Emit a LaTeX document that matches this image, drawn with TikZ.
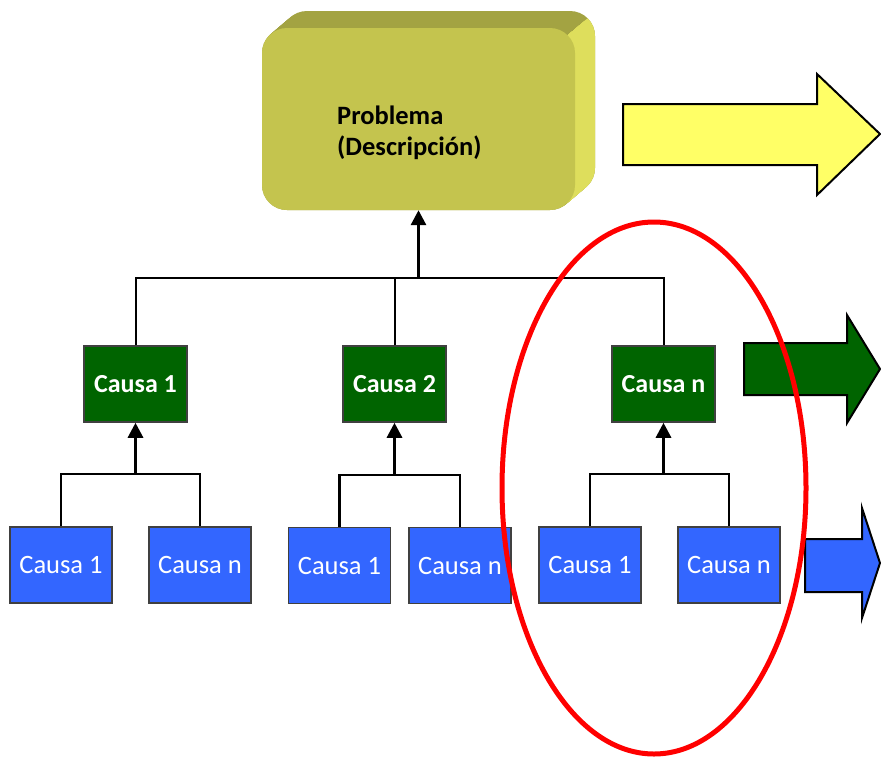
\documentclass[tikz,border=0pt]{standalone}
\usepackage{fontspec}
\setmainfont{Carlito}
\usetikzlibrary{arrows.meta}
\definecolor{ylw}{HTML}{FFFF66}
\definecolor{grn}{HTML}{006400}
\definecolor{blu}{HTML}{3366FF}
\definecolor{pfront}{HTML}{C4C44E}
\definecolor{ptop}{HTML}{A3A342}
\definecolor{pside}{HTML}{DEDE5C}
\definecolor{bord}{HTML}{404040}
\begin{document}
\begin{tikzpicture}[x=1pt,y=-1pt,
  greenbox/.style={draw=bord,line width=1.5pt,fill=grn,text=white,minimum width=103pt,minimum height=76pt,inner sep=0pt,font=\fontsize{26}{30}\selectfont\bfseries},
  bluebox/.style={draw=bord,line width=1.5pt,fill=blu,text=white,minimum width=102pt,minimum height=76pt,inner sep=0pt,font=\fontsize{26.5}{30}\selectfont},
  bigarrow/.style={draw=black,line width=2pt,line join=miter},
  link/.style={draw=black,line width=2.5pt},
  uparrow/.style={draw=black,line width=3pt,-{Triangle[length=15pt,width=15pt]}},
  probtext/.style={font=\fontsize{26.5}{30}\selectfont\bfseries,anchor=base west,inner sep=0pt}
]
\useasboundingbox (0,0) rectangle (881,756);
\fill[white] (0,0) rectangle (881,756);

% extruded problem box
\foreach \t in {0,0.05,...,1.001}{
  \fill[ptop,rounded corners=25pt] (262+20*\t,28-17*\t) rectangle (575+20*\t,210-17*\t);
}
\begin{scope}
  \clip (567.7,35.3) -- (607.7,1.3) -- (700,1.3) -- (700,300) -- (567.7,300) -- cycle;
  \foreach \t in {0,0.05,...,1.001}{
    \fill[pside,rounded corners=25pt] (262+20*\t,28-17*\t) rectangle (575+20*\t,210-17*\t);
  }
\end{scope}
\node[fill=pfront,rounded corners=25pt,minimum width=313pt,minimum height=182pt,inner sep=0pt] (prob) at (418.5,119) {};
\node[probtext] (pl1) at (337,124) {Problema};
\node[probtext] (pl2) at (337,155) {(Descripción)};

% big arrows
\path[bigarrow,fill=ylw] (623,104) -- (817,104) -- (817,74) -- (880,134) -- (817,195) -- (817,165) -- (623,165) -- cycle;
\path[bigarrow,fill=grn] (744,343) -- (847,343) -- (847,315) -- (880,369) -- (847,423) -- (847,395) -- (744,395) -- cycle;
\path[bigarrow,fill=blu] (805,539) -- (862,539) -- (862,508) -- (880,563) -- (862,618) -- (862,592) -- (805,592) -- cycle;

% green boxes
\node[greenbox] (g1) at (135.5,384) {Causa 1};
\node[greenbox] (g2) at (394.5,384) {Causa 2};
\node[greenbox] (g3) at (663.5,384) {Causa n};

% blue boxes
\node[bluebox] (c11) at (61,565) {Causa 1};
\node[bluebox] (c1n) at (200,565) {Causa n};
\node[bluebox] (c21) at (339.5,565.5) {Causa 1};
\node[bluebox] (c2n) at (460,565.5) {Causa n};
\node[bluebox] (c31) at (590,565) {Causa 1};
\node[bluebox] (c3n) at (729,565) {Causa n};

% top tree
\coordinate (top) at (418.5,278);
\draw[link,line width=2pt] (g1.north) |- (top) -| (g3.north);
\draw[link,line width=2pt] (g2.north) -- (g2.north |- top);
\draw[uparrow] (top) -- (prob.south);

% lower trees
\coordinate (b1) at (135.5,474);
\coordinate (b2) at (394.5,475);
\coordinate (b3) at (663.5,474);
\draw[link] (c11.north) |- (b1) -| (c1n.north);
\draw[link] (c21.north) |- (b2) -| (c2n.north);
\draw[link] (c31.north) |- (b3) -| (c3n.north);
\draw[uparrow] (b1) -- (g1.south);
\draw[uparrow] (b2) -- (g2.south);
\draw[uparrow] (b3) -- (g3.south);

% red ellipse
\draw[red,line width=5pt] (654,488) ellipse [x radius=152, y radius=266];
\end{tikzpicture}
\end{document}
